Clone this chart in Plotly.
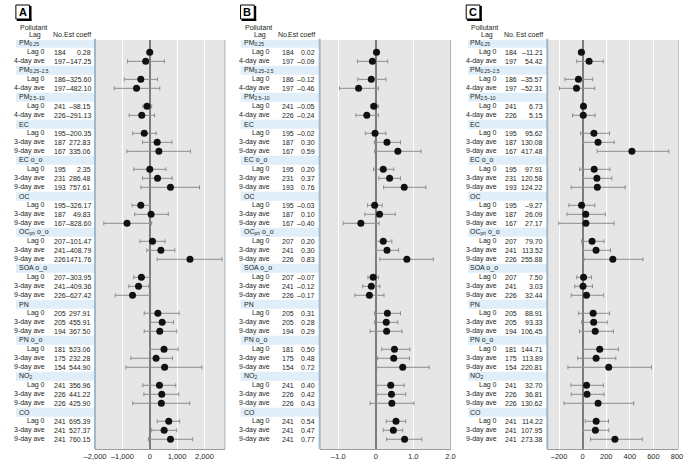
import plotly.graph_objects as go

# ---------------- data ----------------
groups = ["PM<sub>0.25</sub>", "PM<sub>0.25–2.5</sub>", "PM<sub>2.5–10</sub>", "EC", "EC o_o", "OC",
          "OC<sub>pri</sub> o_o", "SOA o_o", "PN", "PN o_o", "NO<sub>2</sub>", "CO"]
group_lags = [["Lag 0", "4-day ave"]] * 3 + [["Lag 0", "3-day ave", "9-day ave"]] * 9

n_obs = [184, 197, 186, 197, 241, 226, 195, 187, 167, 195, 231, 193, 195, 187, 167, 207, 241, 226,
         207, 241, 226, 205, 205, 194, 181, 175, 154, 241, 226, 226, 241, 241, 241]

A_labels = ["0.28", "–147.25", "–325.60", "–482.10", "–98.15", "–291.13", "–200.35", "272.83", "335.06",
            "2.35", "286.48", "757.61", "–326.17", "49.83", "–828.60", "–101.47", "–408.79", "1471.76",
            "–303.95", "–409.36", "–627.42", "297.91", "455.91", "367.50", "523.06", "232.28", "544.90",
            "356.96", "441.22", "425.90", "695.39", "527.37", "760.15"]
A_est = [0.28, -147.25, -325.60, -482.10, -98.15, -291.13, -200.35, 272.83, 335.06, 2.35, 286.48, 757.61,
         -326.17, 49.83, -828.60, 101.47, 408.79, 1471.76, -303.95, -409.36, -627.42, 297.91, 455.91, 367.50,
         523.06, 232.28, 544.90, 356.96, 441.22, 425.90, 695.39, 527.37, 760.15]
A_lo = [-80, -810, -929, -1298, -250, -750, -619, -262, -833, -583, -262, -321, -643, -548, -1679, -357, -107,
        274, -583, -762, -1262, -202, 36, -202, 0, -690, -869, -250, -214, -619, 274, 71, -48]
A_hi = [80, 536, 286, 369, 71, 179, 238, 810, 1488, 595, 821, 1821, 0, 679, 71, 560, 917, 2643, 0, -36, 36,
        1071, 869, 988, 1036, 833, 1905, 952, 1060, 1464, 1095, 988, 1571]

B_est = [0.02, -0.09, -0.12, -0.46, -0.05, -0.24, -0.02, 0.30, 0.59, 0.20, 0.37, 0.76, -0.03, 0.10, -0.40,
         0.20, 0.30, 0.83, -0.07, -0.12, -0.17, 0.31, 0.28, 0.29, 0.50, 0.48, 0.72, 0.40, 0.42, 0.43, 0.54,
         0.47, 0.77]
B_lo = [-0.03, -0.49, -0.48, -0.97, -0.14, -0.53, -0.28, -0.04, -0.03, -0.06, 0.08, 0.21, -0.22, -0.29, -0.87,
        -0.01, 0.01, 0.11, -0.21, -0.35, -0.56, -0.03, -0.03, -0.15, 0.16, 0.05, 0.03, 0.03, 0.03, -0.15, 0.28,
        0.20, 0.29]
B_hi = [0.05, 0.32, 0.27, 0.07, 0.07, 0.07, 0.27, 0.66, 1.21, 0.48, 0.66, 1.34, 0.17, 0.52, 0.09, 0.43, 0.61,
        1.54, 0.07, 0.11, 0.22, 0.66, 0.59, 0.70, 0.91, 0.90, 1.43, 0.76, 0.80, 1.02, 0.80, 0.72, 1.23]

C_est = [-11.21, 54.42, -35.57, -52.31, 6.73, 5.15, 95.62, 130.08, 417.48, 97.91, 120.58, 124.22, -9.27, 26.09,
         27.17, 79.70, 113.52, 255.88, 7.50, 3.03, 32.44, 88.91, 93.33, 106.45, 144.71, 113.89, 220.81, 32.70,
         36.81, 130.62, 114.22, 107.95, 273.38]
C_lo = [-28, -50, -150, -197, -8, -86, -17, 6, 122, -25, 6, -97, -117, -133, -203, -8, 6, 11, -50, -67, -97, -36,
        -8, -28, 3, -42, -125, -100, -97, -158, 22, 6, 67]
C_hi = [17, 175, 86, 103, 22, 106, 228, 267, 731, 231, 247, 361, 103, 192, 267, 181, 236, 511, 75, 83, 178, 228,
        208, 261, 303, 281, 583, 175, 181, 433, 219, 222, 506]

B_labels = [f"{v:.2f}".replace("-", "–") for v in B_est]
C_labels = [f"{v:.2f}".replace("-", "–") for v in C_est]

A_ticks = [-2000, -1000, 0, 1000, 2000]
A_ticktext = ["–2,000", "–1,000", "0", "1,000", "2,000"]
B_ticks = [-1, 0, 1, 2]
B_ticktext = ["–1.0", "0", "1.0", "2.0"]
C_ticks = [-200, 0, 200, 400, 600, 800]
C_ticktext = ["–200", "0", "200", "400", "600", "800"]

# ---------------- layout helpers ----------------
W, H = 691, 469
FONT = "Liberation Sans, Arial, sans-serif"
FS = 7
TXT = "#231f20"


def px(x):
    return x / W


def py(y):
    return 1 - y / H


# row indices
header_rows, data_rows, data_lags = [], [], []
r = 0
for g, lags in zip(groups, group_lags):
    header_rows.append(r)
    r += 1
    for lg in lags:
        data_rows.append(r)
        data_lags.append(lg)
        r += 1

YRANGE = [45.08, -0.37]
YDOM = [py(449), py(40)]

panels = [
    dict(key="A", x0=0, band=(5, 86), plot=(86, 219), grp=6, lag=37, no=42, noh=41, est=84, pol=7, lagh=25,
         rng=[-2000, 2750], tv=A_ticks, tt=A_ticktext, e=A_est, lo=A_lo, hi=A_hi, lab=A_labels),
    dict(key="B", x0=230, band=(235, 316), plot=(316, 450), grp=236, lag=267, no=275, noh=271, est=313, pol=237,
         lagh=255, rng=[-1.5, 2.0], tv=B_ticks, tt=B_ticktext, e=B_est, lo=B_lo, hi=B_hi, lab=B_labels),
    dict(key="C", x0=461, band=(468, 549), plot=(549, 683), grp=468, lag=500, no=504, noh=503, est=547, pol=469,
         lagh=487, rng=[-300, 810], tv=C_ticks, tt=C_ticktext, e=C_est, lo=C_lo, hi=C_hi, lab=C_labels),
]

fig = go.Figure()
shapes, annotations = [], []
layout_axes = {}

for i, p in enumerate(panels):
    sfx = "" if i == 0 else str(i + 1)
    xa, ya = "x" + sfx, "y" + sfx
    layout_axes["xaxis" + sfx] = dict(
        domain=[px(p["plot"][0]), px(p["plot"][1])], range=p["rng"], anchor=ya,
        tickvals=p["tv"], ticktext=p["tt"], tickangle=0, showgrid=True, gridcolor="white", gridwidth=1,
        zeroline=True, zerolinecolor="#7d7d7d", zerolinewidth=1.5, ticks="",
        showline=True, linecolor="#9c9c9c", linewidth=1,
        tickfont=dict(family=FONT, size=7.5, color=TXT), fixedrange=True)
    layout_axes["yaxis" + sfx] = dict(
        domain=YDOM, range=YRANGE, anchor=xa, showgrid=False, zeroline=False,
        showticklabels=False, ticks="", fixedrange=True)

    plus = [h - e for h, e in zip(p["hi"], p["e"])]
    minus = [e - l for e, l in zip(p["e"], p["lo"])]
    fig.add_trace(go.Scatter(
        x=p["e"], y=data_rows, xaxis=xa, yaxis=ya, mode="markers",
        marker=dict(color="#111111", size=7),
        error_x=dict(type="data", symmetric=False, array=plus, arrayminus=minus,
                     color="#8c8c8c", thickness=1, width=2),
        showlegend=False, hoverinfo="skip"))

    # table header bands
    for hr in header_rows:
        shapes.append(dict(type="rect", xref="paper", yref="y", x0=px(p["band"][0]), x1=px(p["band"][1]),
                           y0=hr - 0.5, y1=hr + 0.5, fillcolor="#dfeef9", line=dict(width=0), layer="below"))
    # table top border
    shapes.append(dict(type="line", xref="paper", yref="y", x0=px(p["band"][0]), x1=px(p["band"][1]),
                       y0=-0.5, y1=-0.5, line=dict(color="#b9d2e6", width=1)))
    # right border of table / left edge of plot
    shapes.append(dict(type="line", xref="paper", yref="paper", x0=px(p["plot"][0]), x1=px(p["plot"][0]),
                       y0=py(449), y1=py(38.8), line=dict(color="#9fb8cc", width=2)))
    # right edge of plot
    shapes.append(dict(type="line", xref="paper", yref="paper", x0=px(p["plot"][1]), x1=px(p["plot"][1]),
                       y0=py(449), y1=py(40), line=dict(color="#b0b0b0", width=1)))

    # panel label box
    bx = p["x0"] + 5
    shapes.append(dict(type="rect", xref="paper", yref="paper", x0=px(bx), x1=px(bx + 14), y0=py(19), y1=py(5),
                       fillcolor="white", line=dict(color="black", width=1)))
    shapes.append(dict(type="line", xref="paper", yref="paper", x0=px(bx + 15), x1=px(bx + 15), y0=py(20.5),
                       y1=py(6), line=dict(color="black", width=2)))
    shapes.append(dict(type="line", xref="paper", yref="paper", x0=px(bx + 1), x1=px(bx + 16), y0=py(20),
                       y1=py(20), line=dict(color="black", width=2)))
    annotations.append(dict(text="<b>" + p["key"] + "</b>", xref="paper", yref="paper", x=px(bx + 7),
                            y=py(12.3), showarrow=False, xanchor="center", yanchor="middle",
                            font=dict(family=FONT, size=11, color="black")))

    f = dict(family=FONT, size=FS, color=TXT)
    # column headings
    annotations.append(dict(text="Pollutant", xref="paper", yref="paper", x=px(p["pol"]), y=py(27),
                            xanchor="left", yanchor="middle", showarrow=False, font=f))
    annotations.append(dict(text="Lag", xref="paper", yref="paper", x=px(p["lagh"]), y=py(34.5),
                            xanchor="center", yanchor="middle", showarrow=False, font=f))
    annotations.append(dict(text="No.", xref="paper", yref="paper", x=px(p["noh"]), y=py(34.5),
                            xanchor="left", yanchor="middle", showarrow=False, font=f))
    annotations.append(dict(text="Est coeff", xref="paper", yref="paper", x=px(p["est"]), y=py(34.5),
                            xanchor="right", yanchor="middle", showarrow=False, font=f))

    for g, hr in zip(groups, header_rows):
        annotations.append(dict(text=g, xref="paper", yref="y", x=px(p["grp"]), y=hr, xanchor="left",
                                yanchor="middle", showarrow=False, font=f))
    for k, dr in enumerate(data_rows):
        annotations.append(dict(text=data_lags[k], xref="paper", yref="y", x=px(p["lag"]), y=dr,
                                xanchor="right", yanchor="middle", showarrow=False, font=f))
        annotations.append(dict(text=str(n_obs[k]), xref="paper", yref="y", x=px(p["no"]), y=dr,
                                xanchor="left", yanchor="middle", showarrow=False, font=f))
        annotations.append(dict(text=p["lab"][k], xref="paper", yref="y", x=px(p["est"]), y=dr,
                                xanchor="right", yanchor="middle", showarrow=False, font=f))

fig.update_layout(
    width=W, height=H, margin=dict(l=0, r=0, t=0, b=0),
    paper_bgcolor="white", plot_bgcolor="#e6e6e7",
    shapes=shapes, annotations=annotations, showlegend=False,
    font=dict(family=FONT, size=FS, color=TXT),
    **layout_axes)

fig.write_html("out.html", config={"displayModeBar": False},
               post_script="document.body.style.margin='0px';document.body.style.overflow='hidden';")
